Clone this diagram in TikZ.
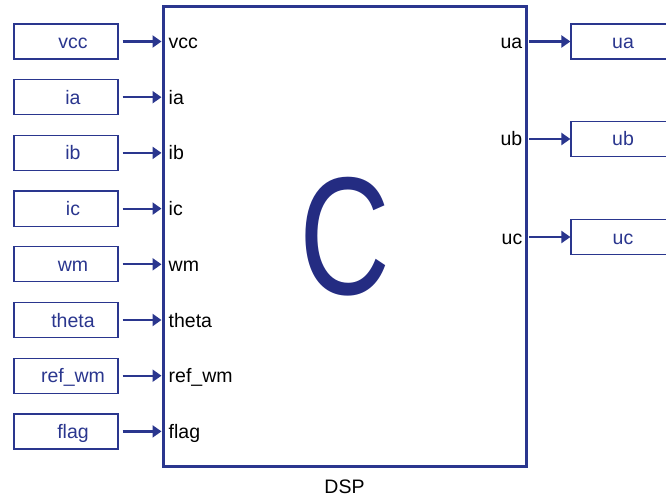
\documentclass[tikz,border=0pt]{standalone}
\usepackage{fontspec}
\setmainfont{Liberation Sans}
\usetikzlibrary{positioning,arrows.meta}
\definecolor{sigblue}{RGB}{42,54,142}
\definecolor{logoblue}{RGB}{36,44,130}

\begin{document}
\begin{tikzpicture}[
    x=1pt, y=-1pt,
    node distance=19.5pt,
    font=\fontsize{19.5}{22}\selectfont,
    inport/.style={draw=sigblue, line width=1.2pt, rectangle, minimum width=104pt, minimum height=35pt, inner sep=0pt, text=sigblue, text height=17pt, text depth=3pt, execute at begin node={\hspace*{14pt}}},
    outport/.style={draw=sigblue, line width=1.2pt, rectangle, minimum width=104pt, minimum height=35pt, inner sep=0pt, text=sigblue, text height=17pt, text depth=3pt},
    block/.style={draw=sigblue, line width=3pt, rectangle, minimum width=363pt, minimum height=460pt, inner sep=0pt},
    pin/.style={inner xsep=7pt, inner ysep=0pt, text height=17pt, text depth=3pt},
    pout/.style={inner xsep=5pt, inner ysep=0pt, text height=17pt, text depth=3pt},
    sig/.style={draw=sigblue, line width=2.2pt, -{Triangle[length=9pt,width=12pt]}}
]
    \useasboundingbox (0,0) rectangle (666,497);

    \node[block] (dsp) at (344.5,236.5) {};
    \node[text=logoblue, font=\fontsize{168}{168}\selectfont] (logo) at (dsp.center) {\scalebox{0.75}[1]{C}};
    \node[below=11.5pt of dsp, inner sep=0pt] (dspname) {DSP};

    % inputs
    \node[inport] (vcc) at (66,41.5) {vcc};
    \node[inport, below=of vcc] (ia) {ia};
    \node[inport, below=of ia] (ib) {ib};
    \node[inport, below=of ib] (ic) {ic};
    \node[inport, below=of ic] (wm) {wm};
    \node[inport, below=of wm] (theta) {theta};
    \node[inport, below=of theta] (refwm) {ref\_wm};
    \node[inport, below=of refwm] (flag) {flag};

    \node[pin, anchor=west] (pvcc) at (dsp.west |- vcc) {vcc};
    \node[pin, anchor=west] (pia) at (dsp.west |- ia) {ia};
    \node[pin, anchor=west] (pib) at (dsp.west |- ib) {ib};
    \node[pin, anchor=west] (pic) at (dsp.west |- ic) {ic};
    \node[pin, anchor=west] (pwm) at (dsp.west |- wm) {wm};
    \node[pin, anchor=west] (ptheta) at (dsp.west |- theta) {theta};
    \node[pin, anchor=west] (prefwm) at (dsp.west |- refwm) {ref\_wm};
    \node[pin, anchor=west] (pflag) at (dsp.west |- flag) {flag};

    \foreach \p in {vcc,ia,ib,ic,wm,theta,refwm,flag}
        \draw[sig, shorten <=4pt] (\p.east) -- (p\p.west);

    % outputs
    \node[outport] (ua) at (623,41.5) {ua};
    \node[outport] (ub) at (623,139) {ub};
    \node[outport] (uc) at (623,237) {uc};

    \node[pout, anchor=east] (pua) at (dsp.east |- ua) {ua};
    \node[pout, anchor=east] (pub) at (dsp.east |- ub) {ub};
    \node[pout, anchor=east] (puc) at (dsp.east |- uc) {uc};

    \foreach \p in {ua,ub,uc}
        \draw[sig, shorten <=1.5pt] (p\p.east) -- (\p.west);
\end{tikzpicture}
\end{document}
